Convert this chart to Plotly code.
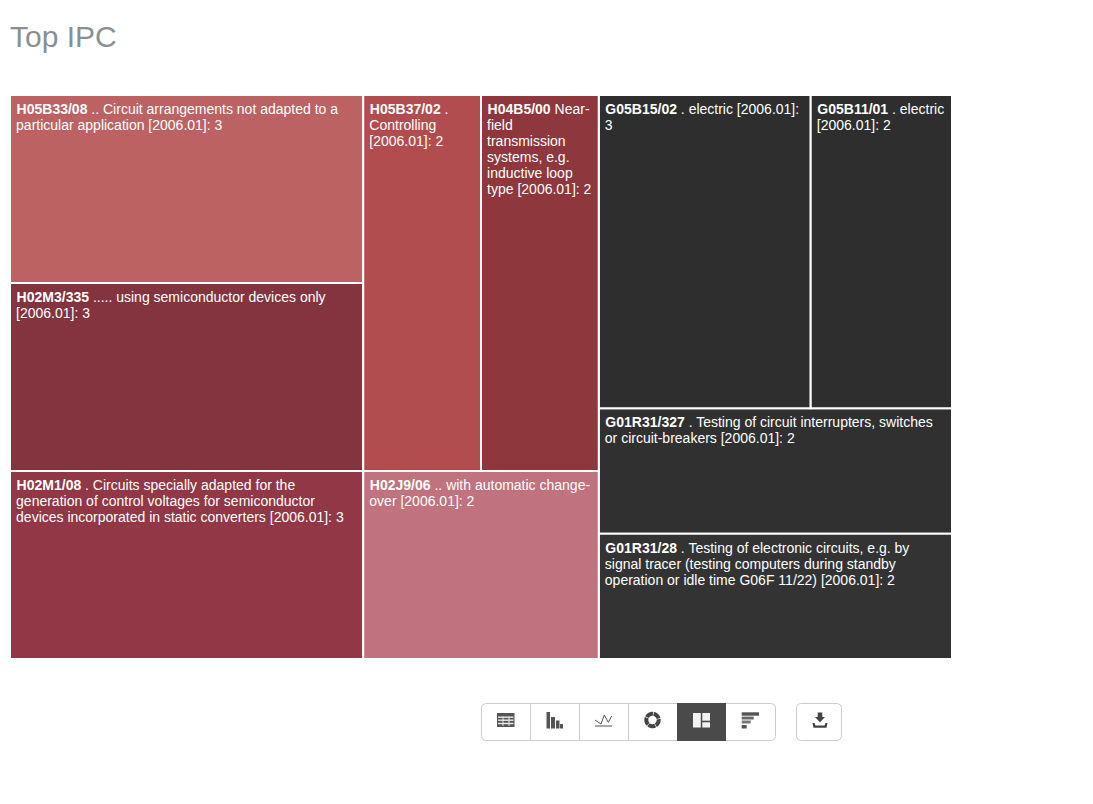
import math
import plotly.graph_objects as go

W, H = 1093, 804
FS = 14
PX = 12.3

ids = ["root", "H", "Hw", "Hc1", "Hc2", "Hrow", "G", "Gtop",
       "H05B33/08", "H02M3/335", "H02M1/08", "H05B37/02", "H04B5/00", "H02J9/06",
       "G05B15/02", "G05B11/01", "G01R31/327", "G01R31/28"]
parents = ["", "root", "H", "Hw", "Hw", "Hc2", "root", "G",
           "Hc1", "Hc1", "Hc1", "Hrow", "Hrow", "Hc2",
           "Gtop", "Gtop", "G", "G"]
values = [24, 15, 15, 9, 6, 4, 9, 5,
          3, 3, 3, 2, 2, 2,
          3, 2, 2, 2]
colors = ["rgba(0,0,0,0)"] * 8 + ["#BC6263", "#83343F", "#913745", "#B14D4F", "#8E373D", "#C0727E",
                                  "#2E2E2E", "#2E2E2E", "#303030", "#333333"]
line_widths = [0] * 8 + [2] * 10
captions = [
    "", "", "", "", "", "", "", "",
    ["<b>H05B33/08</b> .. Circuit arrangements not adapted to a", "particular application [2006.01]: 3"],
    ["<b>H02M3/335</b> ..... using semiconductor devices only", "[2006.01]: 3"],
    ["<b>H02M1/08</b> . Circuits specially adapted for the", "generation of control voltages for semiconductor",
     "devices incorporated in static converters [2006.01]: 3"],
    ["<b>H05B37/02</b> .", "Controlling", "[2006.01]: 2"],
    ["<b>H04B5/00</b> Near-", "field", "transmission", "systems, e.g.", "inductive loop", "type [2006.01]: 2"],
    ["<b>H02J9/06</b> .. with automatic change-", "over [2006.01]: 2"],
    ["<b>G05B15/02</b> . electric [2006.01]:", "3"],
    ["<b>G05B11/01</b> . electric", "[2006.01]: 2"],
    ["<b>G01R31/327</b> . Testing of circuit interrupters, switches", "or circuit-breakers [2006.01]: 2"],
    ["<b>G01R31/28</b> . Testing of electronic circuits, e.g. by", "signal tracer (testing computers during standby",
     "operation or idle time G06F 11/22) [2006.01]: 2"],
]


def caption_html(lines):
    if not lines:
        return " "
    # The invisible lead-in sets the text inset: a tall thin space on the first line pushes
    # the block down, a small no-break space on the others keeps the left edge aligned.
    out = []
    for i, line in enumerate(lines):
        lead = '<span style="font-size:18px">\u2009</span>' if i == 0 else '<span style="font-size:11px">\u00a0</span>'
        out.append(f'{lead}<span style="font-size:{FS}px">{line}</span>')
    return "<br>".join(out)


text = [caption_html(c) for c in captions]


def px(x):
    return x / W


def py(y):
    return 1 - y / H


def poly(pts):
    return "M " + " L ".join(f"{px(a):.5f},{py(b):.5f}" for a, b in pts) + " Z"


def rect(x0, y0, x1, y1, fill):
    return dict(type="rect", xref="paper", yref="paper", x0=px(x0), x1=px(x1), y0=py(y0), y1=py(y1),
                fillcolor=fill, line=dict(color="rgba(0,0,0,0)", width=0), layer="above")


def rr(x0, y0, x1, y1, r=4):
    k = r * .3
    return poly([(x0 + r, y0), (x1 - r, y0), (x1 - k, y0 + k), (x1, y0 + r), (x1, y1 - r),
                 (x1 - k, y1 - k), (x1 - r, y1), (x0 + r, y1), (x0 + k, y1 - k), (x0, y1 - r),
                 (x0, y0 + r), (x0 + k, y0 + k)])


def pshape(d, fill="rgba(0,0,0,0)", line="rgba(0,0,0,0)", lw=0):
    return dict(type="path", xref="paper", yref="paper", path=d, fillcolor=fill,
                line=dict(color=line, width=lw), layer="above")


BORDER = "#CCCCCC"
ICON = "#555555"
shapes = [pshape(rr(481.5, 703.5, 775.5, 740.5), "#FFFFFF", BORDER, 1),
          pshape(rr(796.5, 703.5, 841.5, 740.5), "#FFFFFF", BORDER, 1)]
for x in (530.5, 579.5, 628.5):
    shapes.append(dict(type="line", xref="paper", yref="paper", x0=px(x), x1=px(x), y0=py(704), y1=py(740),
                       line=dict(color=BORDER, width=1), layer="above"))
shapes.append(rect(677, 703, 726, 741, "#4A4A4A"))
# table icon
shapes.append(rect(497, 713, 514.5, 727, ICON))
for x in (502.5, 508.5):
    shapes.append(rect(x, 716.5, x + 1, 726, "#E8E8E8"))
for y in (716.5, 719.5, 722.8):
    shapes.append(rect(498, y, 513.5, y + 1.4, "#E8E8E8"))
# bar icon
shapes += [rect(546.5, 712, 550, 728.5, ICON), rect(551, 717, 555, 728.5, ICON),
           rect(556, 720.5, 559.5, 728.5, ICON), rect(560, 724, 563, 728.5, ICON)]
# line icon
line_pts = [(595, 720), (601, 724), (604.3, 715), (608.3, 722.3), (611.7, 716)]
shapes.append(pshape("M " + " L ".join(f"{px(a):.5f},{py(b):.5f}" for a, b in line_pts), line=ICON, lw=1))
shapes.append(rect(595, 725.5, 612, 726.5, ICON))


# donut icon: five ring segments
def ring(a0, a1, cx=652.5, cy=720, ro=8.2, ri=4.2, n=6):
    angs = [math.radians(a0 + (a1 - a0) * i / n) for i in range(n + 1)]
    pts = [(cx + ro * math.cos(a), cy + ro * math.sin(a)) for a in angs]
    pts += [(cx + ri * math.cos(a), cy + ri * math.sin(a)) for a in reversed(angs)]
    return poly(pts)


for a0 in (-80, -8, 64, 136, 208):
    shapes.append(pshape(ring(a0, a0 + 66), "#444444"))
# treemap icon
shapes += [rect(693, 713, 700.8, 727.5, "#F2F2F2"), rect(702.3, 713, 710, 720.7, "#F2F2F2"),
           rect(702.3, 722.3, 710, 727.5, "#F2F2F2")]
# stepped bars icon
shapes += [rect(741.7, 712.3, 759, 715.7, ICON), rect(741.7, 716.6, 753.7, 719.5, "#666666"),
           rect(741.7, 720.5, 750.7, 723.5, "#777777"), rect(741.7, 725, 746.7, 728.5, ICON)]
# download icon
shapes.append(pshape(poly([(817.7, 712.5), (822.3, 712.5), (822.3, 717), (825, 717), (820, 722.2), (815, 717), (817.7, 717)]),
                     "#444444"))
shapes.append(pshape(poly([(812.5, 723), (814.5, 723), (815.5, 725.5), (824.5, 725.5), (825.5, 723), (827.5, 723), (826.5, 727.8), (813.5, 727.8)]),
                     "#444444"))

fig = go.Figure(go.Treemap(
    ids=ids, labels=ids, parents=parents, values=values, branchvalues="total", sort=False,
    text=text, textinfo="text", textposition="top left",
    textfont=dict(family="Liberation Sans", size=PX, color="#FFFFFF"),
    marker=dict(colors=colors, line=dict(color="#FFFFFF", width=line_widths), pad=dict(t=0, l=0, r=0, b=0),
                depthfade=False),
    tiling=dict(packing="slice-dice", pad=0),
    pathbar=dict(visible=False),
    hoverinfo="skip",
    domain=dict(x=[px(10), px(952)], y=[py(659), py(95)]),
))
fig.update_layout(
    width=W, height=H, margin=dict(l=0, r=0, t=0, b=0), paper_bgcolor="#FFFFFF",
    shapes=shapes, showlegend=False,
    annotations=[dict(text="Top IPC", xref="paper", yref="paper", x=px(8), y=py(36), xanchor="left", yanchor="middle",
                      showarrow=False, font=dict(family="Liberation Sans", size=30, color="#8A8F94"))],
)
fig.write_html("out.html", post_script="document.body.style.margin='0';",
               config=dict(displayModeBar=False))
